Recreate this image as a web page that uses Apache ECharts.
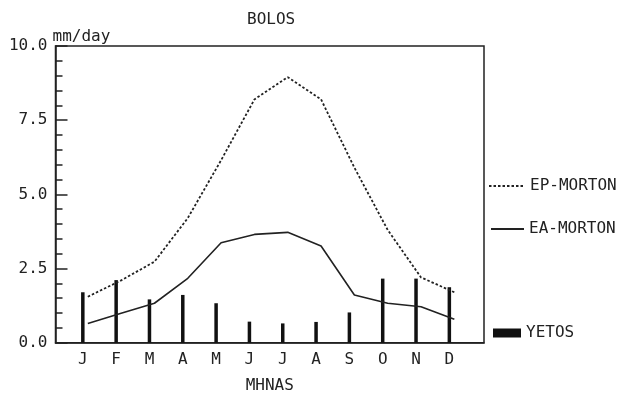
<!DOCTYPE html>
<html>
<head>
<meta charset="utf-8">
<script src="https://cdn.jsdelivr.net/npm/echarts@6/dist/echarts.min.js"></script>
<style>
html,body{margin:0;padding:0;background:#fff;}
#container{width:621px;height:394px;}
</style>
</head>
<body>
<div id="container"></div>
<script>
// monthly data
var months = ['J', 'F', 'M', 'A', 'M', 'J', 'J', 'A', 'S', 'O', 'N', 'D'];
var monthPos = [1, 2, 3, 4, 5, 6, 7, 8, 9, 10, 11, 12];
var yetos = [1.70, 2.11, 1.46, 1.61, 1.33, 0.71, 0.65, 0.70, 1.02, 2.16, 2.16, 1.87];
var epMorton = [1.55, 2.10, 2.73, 4.20, 6.15, 8.20, 8.95, 8.20, 5.90, 3.80, 2.20, 1.70];
var eaMorton = [0.65, 0.99, 1.33, 2.17, 3.37, 3.65, 3.72, 3.26, 1.61, 1.33, 1.21, 0.79];
var yTicks = [0, 2.5, 5, 7.5, 10];

var ink = '#222';
var font = 'DejaVu Sans Mono';
var fs = 16;
// the lines are drawn a bit right of the bars in the original
var lineShift = 0.15;

var dom = document.getElementById('container');
var myChart = echarts.init(dom, null, {renderer: 'canvas'});

function pairs(vals, shift) {
  return vals.map(function (v, i) { return [monthPos[i] + shift, v]; });
}

var legendText = {color: ink, fontFamily: font, fontSize: fs};
// hide the symbol dot in line legends, keep just the stroke
var noDot = {color: 'rgba(0,0,0,0)', borderWidth: 0};

var option = {
  backgroundColor: '#fff',
  animation: false,
  title: {
    text: 'BOLOS',
    left: 242,
    top: 7,
    textStyle: {color: ink, fontFamily: font, fontSize: fs, fontWeight: 'normal'}
  },
  grid: {
    left: 55.5, right: 137, top: 46, bottom: 51.3,
    outerBoundsMode: 'none',
    show: true,
    borderColor: ink,
    borderWidth: 1.5
  },
  legend: [
    {
      data: [{name: 'EP-MORTON', itemStyle: noDot}],
      left: 488, top: 178, itemWidth: 36, itemHeight: 14, itemGap: 2,
      textStyle: legendText, padding: 0
    },
    {
      data: [{name: 'EA-MORTON', itemStyle: noDot}],
      left: 490, top: 221, itemWidth: 33, itemHeight: 14,
      textStyle: legendText, padding: 0
    },
    {
      data: [{name: 'YETOS', icon: 'rect'}],
      left: 493, top: 325, itemWidth: 28, itemHeight: 9,
      textStyle: legendText, padding: 0
    }
  ],
  xAxis: {
    type: 'value',
    min: 0.18,
    max: 13.04,
    name: 'MHNAS',
    nameLocation: 'middle',
    nameGap: 35,
    nameTextStyle: {color: ink, fontFamily: font, fontSize: fs},
    axisLine: {lineStyle: {color: ink, width: 1.5}},
    axisTick: {show: false},
    splitLine: {show: false},
    axisLabel: {
      customValues: monthPos,
      color: ink, fontFamily: font, fontSize: fs, margin: 9,
      formatter: function (v) { return months[Math.round(v) - 1]; }
    }
  },
  yAxis: {
    type: 'value',
    min: 0,
    max: 10,
    interval: 2.5,
    name: 'mm/day',
    nameLocation: 'end',
    nameGap: 1,
    nameMoveOverlap: false,
    nameTextStyle: {color: ink, fontFamily: font, fontSize: fs, align: 'left', padding: [0, 0, 0, -3]},
    axisLine: {lineStyle: {color: ink, width: 1.5}},
    axisTick: {inside: true, length: 12, lineStyle: {color: ink, width: 1.5}},
    minorTick: {show: true, splitNumber: 5, length: 7, lineStyle: {color: ink, width: 1.5}},
    splitLine: {show: false},
    axisLabel: {
      color: ink, fontFamily: font, fontSize: fs, margin: 8,
      customValues: yTicks,
      formatter: function (v) { return v.toFixed(1); }
    }
  },
  series: [
    {
      name: 'EP-MORTON',
      type: 'line',
      symbol: 'none',
      data: pairs(epMorton, lineShift),
      lineStyle: {color: '#222', width: 1.8, type: [2.5, 2]},
      itemStyle: {color: '#222'}
    },
    {
      name: 'EA-MORTON',
      type: 'line',
      symbol: 'none',
      data: pairs(eaMorton, lineShift),
      lineStyle: {color: '#222', width: 1.6},
      itemStyle: {color: '#222'}
    },
    {
      name: 'YETOS',
      type: 'bar',
      barWidth: 3.5,
      data: pairs(yetos, 0),
      itemStyle: {color: '#111'}
    }
  ]
};

myChart.setOption(option);
window.addEventListener('resize', function () {
  myChart.resize();
});
</script>
</body>
</html>
